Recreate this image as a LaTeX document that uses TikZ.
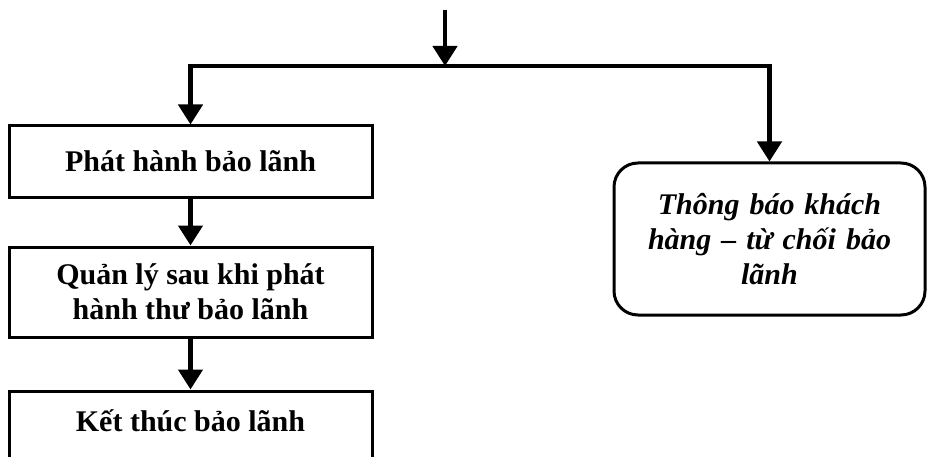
\documentclass[tikz,border=0pt]{standalone}
\usepackage{fontspec}
\setmainfont{Liberation Serif}
\usetikzlibrary{arrows.meta}
\begin{document}
\begin{tikzpicture}[x=1pt,y=-1pt,
  stepbox/.style={draw,line width=3pt,inner sep=0pt,align=center,
    minimum width=363pt,font=\fontsize{30}{35}\selectfont\bfseries},
  notebox/.style={draw,line width=3pt,rounded corners=24pt,inner sep=0pt,
    align=center,text width=290pt,minimum width=311pt,minimum height=152pt,
    font=\fontsize{30}{35}\selectfont\bfseries\itshape},
  conn/.style={line width=4.5pt,line join=miter,
    -{Triangle[width=24pt,length=20pt]}}]
\useasboundingbox (0,0) rectangle (928,457);
\fill[white] (0,0) rectangle (928,457);

% steps on the left
\node[stepbox,minimum height=71pt] (b1) at (190.5,161.5) {Phát hành bảo lãnh};
\node[stepbox,minimum height=90pt] (b2) at (190.5,292) {Quản lý sau khi phát\\hành thư bảo lãnh};
\node[stepbox,minimum height=74pt,text height=20pt,text depth=13pt] (b3) at (190.5,428) {Kết thúc bảo lãnh};

% refusal notice on the right
\node[notebox] (rb) at (769.5,239) {Thông báo khách\\hàng – từ chối bảo\\lãnh};

% incoming flow and the split
\coordinate (top) at (445,10);
\coordinate (split) at (445,66);
\draw[conn] (top) -- (split);
\draw[conn] (split) -| (b1.north);
\draw[conn] (split) -| (rb.north);

% sequence of steps
\draw[conn] (b1.south) -- (b2.north);
\draw[conn] (b2.south) -- (b3.north);
\end{tikzpicture}
\end{document}
